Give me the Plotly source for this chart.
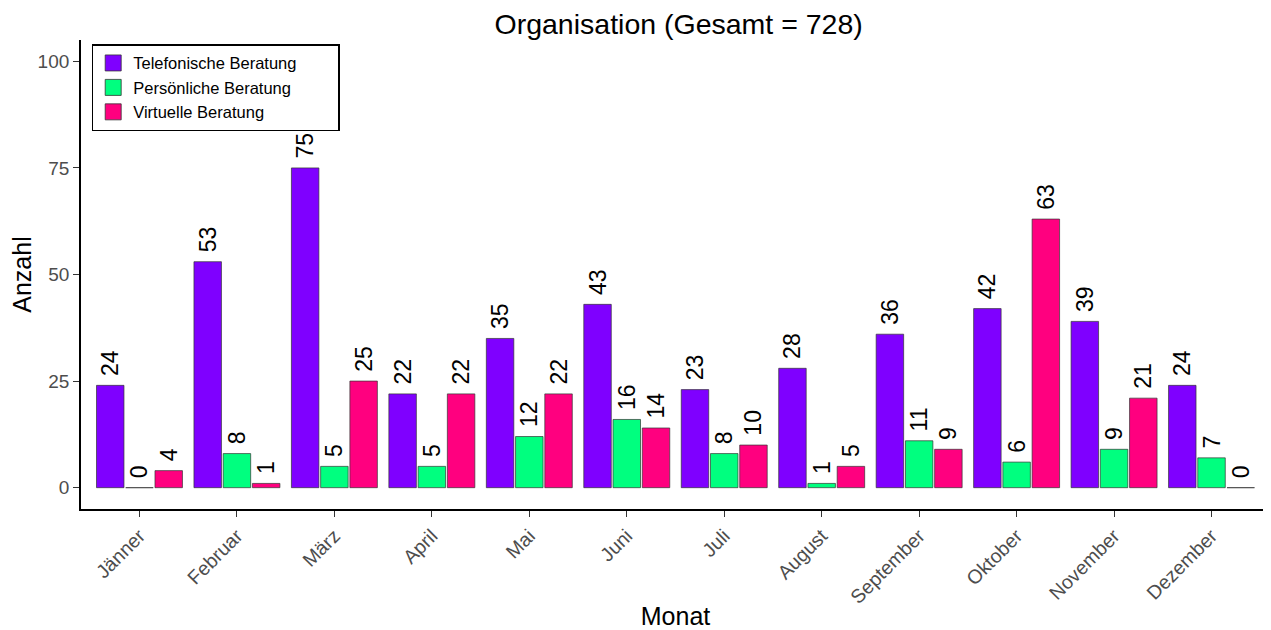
import plotly.graph_objects as go

months = ["Jänner", "Februar", "März", "April", "Mai", "Juni", "Juli",
          "August", "September", "Oktober", "November", "Dezember"]
telefonisch = [24, 53, 75, 22, 35, 43, 23, 28, 36, 42, 39, 24]
persoenlich = [0, 8, 5, 5, 12, 16, 8, 1, 11, 6, 9, 7]
virtuell = [4, 1, 25, 22, 22, 14, 10, 5, 9, 63, 21, 0]
series = [
    ("Telefonische Beratung", telefonisch, "#7F00FF"),
    ("Persönliche Beratung", persoenlich, "#00FF7F"),
    ("Virtuelle Beratung", virtuell, "#FF007F"),
]
total = sum(telefonisch) + sum(persoenlich) + sum(virtuell)
y_ticks = [0, 25, 50, 75, 100]

FONT = "Liberation Sans, Arial, sans-serif"
OUTLINE = "#333333"

fig = go.Figure()
for name, vals, col in series:
    fig.add_trace(go.Bar(
        x=months, y=vals, name=name, showlegend=False,
        marker=dict(color=col, line=dict(color=OUTLINE, width=0.7)),
        text=["\u00a0" + str(v) for v in vals],
        textposition="outside", textangle=-90,
        textfont=dict(family=FONT, size=23, color="black"),
        cliponaxis=False, constraintext="none",
    ))
# legend keys (larger square swatches); trailing spaces widen the legend box
for name, vals, col in series:
    fig.add_trace(go.Scatter(
        x=[None], y=[None], mode="markers", name=name + "\u00a0" * 8,
        showlegend=True,
        marker=dict(symbol="square", size=16, color=col,
                    line=dict(color=OUTLINE, width=0.8)),
    ))

# page body has an 8px margin, so the figure is drawn 8px smaller and offset
fig.update_layout(
    width=1263, height=622,
    barmode="group", bargap=0.1, bargroupgap=0.06,
    plot_bgcolor="white", paper_bgcolor="white",
    margin=dict(l=73, r=1, t=32, b=121),
    font=dict(family=FONT, color="black"),
    title=dict(text=f"Organisation (Gesamt = {total})", x=0.531, xanchor="center",
               yref="container", y=0.975, yanchor="middle",
               font=dict(size=28.5, color="black")),
    legend=dict(x=0.009, y=0.991, xanchor="left", yanchor="top",
                bordercolor="black", borderwidth=1.5, bgcolor="white",
                font=dict(size=16.5, color="black"), tracegroupgap=0,
                itemsizing="trace", itemwidth=30),
    showlegend=True,
)
fig.update_xaxes(
    range=[-0.6, 11.6], automargin=False, showline=True, linecolor="black", linewidth=1.8,
    ticks="outside", ticklen=6, tickcolor="#333333", tickwidth=1.3,
    tickangle=-45, tickfont=dict(size=19.5, color="#4D4D4D"),
    title=dict(text="Monat", font=dict(size=25, color="black"), standoff=6),
    showgrid=False, zeroline=False,
)
fig.update_yaxes(
    range=[-5, 105], automargin=False, tickvals=y_ticks, showline=True,
    linecolor="black", linewidth=1.8,
    ticks="outside", ticklen=6, tickcolor="#333333", tickwidth=1.3,
    tickfont=dict(size=19, color="#4D4D4D"),
    title=dict(text="Anzahl", font=dict(size=25, color="black"), standoff=2),
    showgrid=False, zeroline=False,
)
fig.write_html("out.html")
